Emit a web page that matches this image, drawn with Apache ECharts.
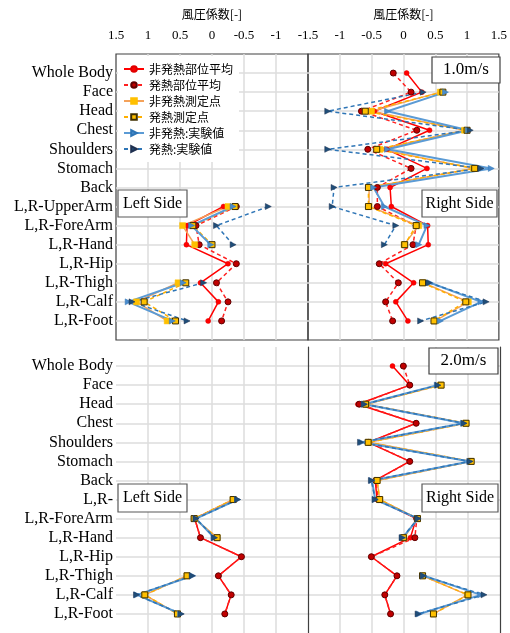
<!DOCTYPE html>
<html>
<head>
<meta charset="utf-8">
<script src="https://cdn.jsdelivr.net/npm/echarts@6/dist/echarts.min.js"></script>
<style>
html,body{margin:0;padding:0;background:#fff;}
#chart{width:510px;height:633px;}
</style>
</head>
<body>
<div id="chart"></div>
<script>
// Body parts, top to bottom
const partsUpper = ['Whole Body','Face','Head','Chest','Shoulders','Stomach','Back',
  'L,R-UpperArm','L,R-ForeArm','L,R-Hand','L,R-Hip','L,R-Thigh','L,R-Calf','L,R-Foot'];
const partsLower = ['Whole Body','Face','Head','Chest','Shoulders','Stomach','Back',
  'L,R-','L,R-ForeArm','L,R-Hand','L,R-Hip','L,R-Thigh','L,R-Calf','L,R-Foot'];

const seriesNames = ['非発熱部位平均','発熱部位平均','非発熱測定点','発熱測定点','非発熱:実験値','発熱:実験値'];
const speedLabels = ['1.0m/s','2.0m/s'];
const axisTitle = '風圧係数[-]';

const N = null;

// Wind pressure coefficients, 1.0 m/s, right side
const v1R_avg     = [0.05, 0.29, -0.46, 0.41, -0.26, 0.37, -0.21, -0.19, 0.38, 0.39, -0.28, 0.16, -0.12, 0.07];
const v1R_avgHeat = [-0.16, 0.12, -0.66, 0.21, -0.56, 0.12, -0.41, -0.41, 0.20, 0.15, -0.38, -0.08, -0.28, -0.17];
const v1R_pt      = [N, 0.58, -0.50, 0.96, -0.37, 1.10, -0.54, -0.54, 0.24, 0.01, N, 0.31, 1.02, 0.50];
const v1R_ptHeat  = [N, 0.62, -0.60, 1.00, -0.42, 1.12, -0.55, -0.55, 0.20, 0.02, N, 0.30, 0.98, 0.48];
const v1R_exp     = [N, 0.66, -0.25, 1.02, -0.25, 1.38, -0.47, -0.30, 0.37, 0.24, N, 0.42, 1.22, 0.58];
const v1R_expHeat = [N, 0.31, -1.19, 1.05, -1.19, 1.22, -1.09, -1.12, -0.12, -0.30, N, 0.40, 1.30, 0.27];

// 1.0 m/s, left side
const v1L_avg     = [N, N, N, N, N, N, N, -0.18, 0.39, 0.40, -0.25, 0.18, -0.10, 0.06];
const v1L_avgHeat = [N, N, N, N, N, N, N, -0.38, 0.25, 0.20, -0.38, -0.07, -0.25, -0.15];
const v1L_pt      = [N, N, N, N, N, N, N, -0.25, 0.46, 0.27, N, 0.53, 1.18, 0.70];
const v1L_ptHeat  = [N, N, N, N, N, N, N, -0.36, 0.30, 0.00, N, 0.41, 1.06, 0.57];
const v1L_exp     = [N, N, N, N, N, N, N, -0.33, 0.32, 0.02, N, 0.45, 1.31, 0.62];
const v1L_expHeat = [N, N, N, N, N, N, N, -0.88, -0.07, -0.33, N, 0.13, 1.25, 0.39];

// 2.0 m/s, right side
const v2R_avg     = [-0.18, 0.09, -0.72, 0.19, -0.56, 0.09, -0.45, -0.42, 0.19, 0.10, -0.51, -0.11, -0.30, -0.21];
const v2R_avgHeat = [-0.01, 0.09, -0.70, 0.19, -0.55, 0.09, -0.44, -0.40, 0.20, 0.17, -0.51, -0.11, -0.30, -0.21];
const v2R_pt      = [N, 0.57, -0.59, 0.96, -0.55, 1.04, -0.42, -0.38, 0.21, 0.00, N, 0.29, 0.99, 0.46];
const v2R_ptHeat  = [N, 0.58, -0.60, 0.97, -0.56, 1.05, -0.42, -0.38, 0.21, -0.01, N, 0.29, 1.00, 0.46];
const v2R_exp     = [N, 0.52, -0.62, 0.93, -0.66, 1.03, -0.50, -0.45, 0.22, -0.02, N, 0.31, 1.20, 0.24];
const v2R_expHeat = [N, 0.53, -0.62, 0.94, -0.68, 1.03, -0.51, -0.45, 0.22, -0.03, N, 0.30, 1.25, 0.22];

// 2.0 m/s, left side
const v2L_avg     = [N, N, N, N, N, N, N, -0.35, 0.27, 0.18, -0.46, -0.10, -0.30, -0.20];
const v2L_avgHeat = [N, N, N, N, N, N, N, -0.35, 0.27, 0.18, -0.46, -0.10, -0.30, -0.20];
const v2L_pt      = [N, N, N, N, N, N, N, -0.33, 0.27, -0.08, N, 0.39, 1.05, 0.54];
const v2L_ptHeat  = [N, N, N, N, N, N, N, -0.33, 0.28, -0.08, N, 0.39, 1.05, 0.54];
const v2L_exp     = [N, N, N, N, N, N, N, -0.40, 0.25, -0.03, N, 0.30, 1.17, 0.49];
const v2L_expHeat = [N, N, N, N, N, N, N, -0.40, 0.25, -0.04, N, 0.31, 1.18, 0.48];

const SERIF = '"Liberation Serif","Times New Roman",serif';
const CJK = '"Noto Sans CJK JP","Noto Sans",sans-serif';

// Line / marker look of the six series
const looks = [
  { line: { color: '#ff0000', width: 1.5, type: 'solid' }, symbol: 'circle', size: 5,
    item: { color: '#ff0000', borderColor: '#e00000', borderWidth: 0.5 } },
  { line: { color: '#ff2020', width: 1.5, type: [4, 3] }, symbol: 'circle', size: 6,
    item: { color: '#c00000', borderColor: '#600000', borderWidth: 1 } },
  { line: { color: '#f4a25a', width: 1.5, type: 'solid' }, symbol: 'rect', size: 6,
    item: { color: '#ffc000', borderColor: '#ffc000', borderWidth: 0.5 } },
  { line: { color: '#ffb000', width: 1.5, type: [4, 3] }, symbol: 'rect', size: 6,
    item: { color: '#ffc000', borderColor: '#403000', borderWidth: 1 } },
  { line: { color: '#5b9bd5', width: 2, type: 'solid' }, symbol: 'triangle', size: 6,
    item: { color: '#4a8ccc', borderColor: '#2e75b6', borderWidth: 0.5 } },
  { line: { color: '#2e75b6', width: 1.5, type: [4, 3] }, symbol: 'triangle', size: 6,
    item: { color: '#1f4e79', borderColor: '#1f3050', borderWidth: 0.5 } }
];

const panels = [
  { grid: 0, sets: [v1L_avg, v1L_avgHeat, v1L_pt, v1L_ptHeat, v1L_exp, v1L_expHeat] },
  { grid: 1, sets: [v1R_avg, v1R_avgHeat, v1R_pt, v1R_ptHeat, v1R_exp, v1R_expHeat] },
  { grid: 2, sets: [v2L_avg, v2L_avgHeat, v2L_pt, v2L_ptHeat, v2L_exp, v2L_expHeat] },
  { grid: 3, sets: [v2R_avg, v2R_avgHeat, v2R_pt, v2R_ptHeat, v2R_exp, v2R_expHeat] }
];

const series = [];
panels.forEach(p => {
  p.sets.forEach((vals, k) => {
    const lk = looks[k];
    series.push({
      type: 'line',
      name: seriesNames[k],
      xAxisIndex: p.grid,
      yAxisIndex: p.grid,
      data: vals.map((v, i) => [v == null ? '-' : v, i]),
      connectNulls: false,
      symbol: lk.symbol,
      symbolSize: lk.size,
      symbolRotate: lk.symbol === 'triangle' ? -90 : 0,
      showAllSymbol: true,
      lineStyle: lk.line,
      itemStyle: lk.item,
      animation: false,
      emphasis: { disabled: true }
    });
  });
});

const gridLine = { show: true, lineStyle: { color: '#dcdcdc', width: 1.5 } };

function xAxisFor(gridIndex, left, top) {
  const ax = {
    type: 'value', gridIndex: gridIndex, min: -1.5, max: 1.5, interval: 0.5,
    inverse: left, position: 'top',
    axisLine: { show: false }, axisTick: { show: false },
    splitLine: Object.assign({ showMinLine: false, showMaxLine: false }, gridLine),
    axisLabel: { show: top, color: '#000', fontFamily: SERIF, fontSize: 13, margin: 12,
      showMinLabel: left ? true : false },
  };
  if (top) {
    ax.name = axisTitle;
    ax.nameLocation = 'middle';
    ax.nameGap = 34;
    ax.nameTextStyle = { color: '#000', fontFamily: CJK, fontSize: 12 };
  }
  return ax;
}

function yAxisFor(gridIndex, labels) {
  return {
    type: 'value', gridIndex: gridIndex, min: -1, max: 14, interval: 1, inverse: true,
    axisLine: { show: false }, axisTick: { show: false },
    splitLine: Object.assign({ showMinLine: false, showMaxLine: false }, gridLine),
    axisLabel: labels ? {
      show: true, color: '#000', fontFamily: SERIF, fontSize: 16, margin: 3,
      formatter: v => (labels[v] !== undefined ? labels[v] : '')
    } : { show: false }
  };
}

const borderStyle = { show: true, borderColor: '#404040', borderWidth: 1.2, backgroundColor: 'transparent' };
const darkEdge = { show: true, onZero: false, lineStyle: { color: '#404040', width: 1.2 } };

const option = {
  backgroundColor: '#fff',
  animation: false,
  grid: [
    Object.assign({ left: 116, top: 54, width: 192, height: 286 }, borderStyle),
    Object.assign({ left: 308, top: 54, width: 194, height: 286 }, borderStyle),
    { left: 116, top: 347, width: 192, height: 289, show: false },
    { left: 308, top: 347, width: 192, height: 289, show: false }
  ],
  xAxis: [
    xAxisFor(0, true, true),
    xAxisFor(1, false, true),
    xAxisFor(2, true, false),
    xAxisFor(3, false, false)
  ],
  yAxis: [
    yAxisFor(0, partsUpper),
    yAxisFor(1, null),
    yAxisFor(2, partsLower),
    // divider between the two halves of the lower panel
    Object.assign(yAxisFor(3, null), { position: 'left', axisLine: darkEdge }),
    // right edge of the lower panel
    { type: 'value', gridIndex: 3, min: -1, max: 14, inverse: true, position: 'right',
      axisLine: darkEdge, axisTick: { show: false }, axisLabel: { show: false }, splitLine: { show: false } }
  ],
  legend: {
    data: seriesNames,
    orient: 'vertical',
    left: 118, top: 56,
    padding: [6, 6, 6, 5],
    itemGap: 2,
    itemWidth: 20, itemHeight: 7,
    backgroundColor: '#fff',
    textStyle: { fontFamily: CJK, fontSize: 12, color: '#000', lineHeight: 14 },
    selectedMode: false
  },
  series: series,
  graphic: [
    { type: 'rect', z: 100, shape: { x: 432, y: 57, width: 68, height: 26 },
      style: { fill: '#fff', stroke: '#404040', lineWidth: 1.2 } },
    { type: 'text', z: 101, x: 466, y: 70,
      style: { text: speedLabels[0], font: '17px ' + SERIF, fill: '#000', align: 'center', verticalAlign: 'middle' } },
    { type: 'rect', z: 100, shape: { x: 429, y: 348, width: 69, height: 26 },
      style: { fill: '#fff', stroke: '#404040', lineWidth: 1.2 } },
    { type: 'text', z: 101, x: 463.5, y: 361,
      style: { text: speedLabels[1], font: '17px ' + SERIF, fill: '#000', align: 'center', verticalAlign: 'middle' } },

    { type: 'rect', z: 100, shape: { x: 118, y: 190, width: 69, height: 27 },
      style: { fill: '#fff', stroke: '#595959', lineWidth: 1.2 } },
    { type: 'text', z: 101, x: 152.5, y: 203.5,
      style: { text: 'Left Side', font: '16px ' + SERIF, fill: '#000', align: 'center', verticalAlign: 'middle' } },
    { type: 'rect', z: 100, shape: { x: 422, y: 190, width: 75, height: 27 },
      style: { fill: '#fff', stroke: '#595959', lineWidth: 1.2 } },
    { type: 'text', z: 101, x: 459.5, y: 203.5,
      style: { text: 'Right Side', font: '16px ' + SERIF, fill: '#000', align: 'center', verticalAlign: 'middle' } },

    { type: 'rect', z: 100, shape: { x: 118, y: 484, width: 69, height: 28 },
      style: { fill: '#fff', stroke: '#595959', lineWidth: 1.2 } },
    { type: 'text', z: 101, x: 152.5, y: 498,
      style: { text: 'Left Side', font: '16px ' + SERIF, fill: '#000', align: 'center', verticalAlign: 'middle' } },
    { type: 'rect', z: 100, shape: { x: 422, y: 484, width: 76, height: 28 },
      style: { fill: '#fff', stroke: '#595959', lineWidth: 1.2 } },
    { type: 'text', z: 101, x: 460, y: 498,
      style: { text: 'Right Side', font: '16px ' + SERIF, fill: '#000', align: 'center', verticalAlign: 'middle' } }
  ]
};

const chart = echarts.init(document.getElementById('chart'), null, { renderer: 'canvas' });
chart.setOption(option);
</script>
</body>
</html>
